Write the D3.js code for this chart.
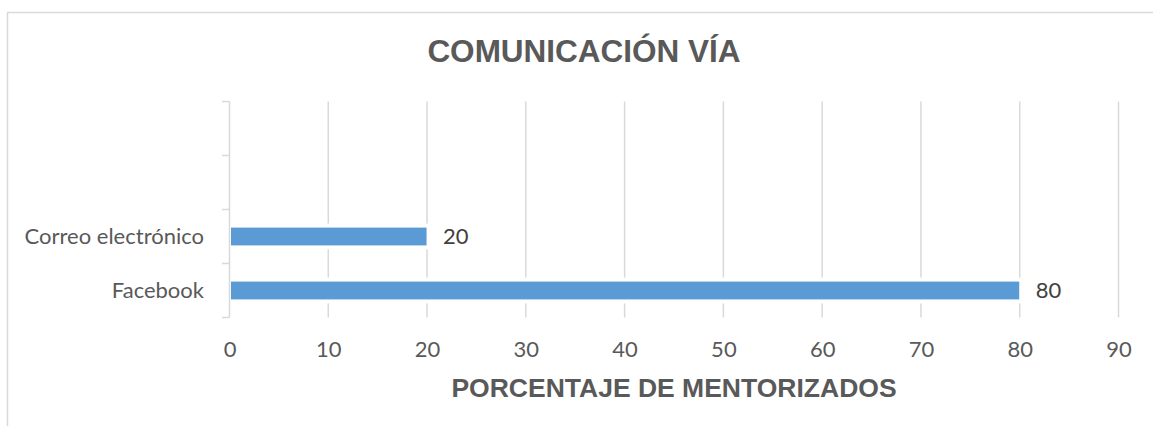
<!DOCTYPE html>
<html>
<head>
<meta charset="utf-8">
<script src="https://cdn.jsdelivr.net/npm/d3@7"></script>
<style>
  body { margin: 0; background: #fff; }
  svg { display: block; }
</style>
</head>
<body>
<svg id="chart" width="1153" height="426"></svg>
<script>
// datos del gráfico (de arriba hacia abajo, las dos primeras categorías están vacías)
var categories = ["", "", "Correo electrónico", "Facebook"];
var values = [null, null, 20, 80];
var xTicks = [0, 10, 20, 30, 40, 50, 60, 70, 80, 90];
var chartTitle = "COMUNICACIÓN VÍA";
var xTitle = "PORCENTAJE DE MENTORIZADOS";

var svg = d3.select("#chart");
var grey = "#d9d9d9";
var labelFont = "Lato, 'Open Sans', sans-serif";

// marco del gráfico
svg.append("rect")
  .attr("x", 7.5).attr("y", 12.5)
  .attr("width", 1160).attr("height", 430)
  .attr("fill", "none")
  .attr("stroke", grey)
  .attr("stroke-width", 1.5);

var xScale = d3.scaleLinear()
  .domain([0, 90])
  .range([229.5, 1118.5]);

var yScale = d3.scaleBand()
  .domain(d3.range(categories.length))
  .range([101.5, 317.5])
  .paddingInner(0.67)
  .paddingOuter(0.335);

var step = yScale.step();

// líneas de cuadrícula verticales
svg.append("g")
  .selectAll("line")
  .data(xTicks.slice(1))
  .enter()
  .append("line")
  .attr("x1", function(d){ return xScale(d); })
  .attr("x2", function(d){ return xScale(d); })
  .attr("y1", 101.5)
  .attr("y2", 317.5)
  .attr("stroke", grey)
  .attr("stroke-width", 1.5);

var rows = categories.map(function(c, i){ return {cat: c, val: values[i], i: i}; })
  .filter(function(d){ return d.val != null; });

// fondo blanco alrededor de las barras (tapa la cuadrícula como en Excel)
svg.append("g")
  .selectAll("rect")
  .data(rows)
  .enter()
  .append("rect")
  .attr("x", xScale(0) + 1)
  .attr("y", function(d){ return yScale(d.i) - 4; })
  .attr("width", function(d){ return xScale(d.val) - xScale(0) + 2; })
  .attr("height", yScale.bandwidth() + 8)
  .attr("fill", "#fff");

// barras
svg.append("g")
  .selectAll("rect")
  .data(rows)
  .enter()
  .append("rect")
  .attr("x", xScale(0) + 1.5)
  .attr("y", function(d){ return yScale(d.i); })
  .attr("width", function(d){ return xScale(d.val) - xScale(0) - 2; })
  .attr("height", yScale.bandwidth())
  .attr("fill", "#5b9bd5");

// etiquetas de datos
svg.append("g")
  .selectAll("text")
  .data(rows)
  .enter()
  .append("text")
  .attr("x", function(d){ return xScale(d.val) + 16; })
  .attr("y", function(d){ return yScale(d.i) + yScale.bandwidth() / 2; })
  .attr("dy", "0.36em")
  .attr("font-family", labelFont)
  .attr("font-size", 22)
  .attr("fill", "#404040")
  .text(function(d){ return d.val; });

// eje Y con marcas entre categorías
var yAxis = svg.append("g");
yAxis.append("line")
  .attr("x1", 229.5).attr("x2", 229.5)
  .attr("y1", 101.5).attr("y2", 317.5)
  .attr("stroke", grey).attr("stroke-width", 1.5);
yAxis.selectAll("line.tick")
  .data(d3.range(categories.length + 1))
  .enter()
  .append("line")
  .attr("class", "tick")
  .attr("x1", 222).attr("x2", 229.5)
  .attr("y1", function(i){ return 101.5 + i * step; })
  .attr("y2", function(i){ return 101.5 + i * step; })
  .attr("stroke", grey).attr("stroke-width", 1.5);
yAxis.selectAll("text")
  .data(categories.map(function(c, i){ return {cat: c, i: i}; }))
  .enter()
  .append("text")
  .attr("x", 204)
  .attr("y", function(d){ return yScale(d.i) + yScale.bandwidth() / 2; })
  .attr("dy", "0.36em")
  .attr("text-anchor", "end")
  .attr("font-family", labelFont)
  .attr("font-size", 22)
  .attr("fill", "#595959")
  .text(function(d){ return d.cat; });

// eje X (solo etiquetas)
var xAxis = svg.append("g")
  .attr("transform", "translate(0,349)")
  .call(d3.axisBottom(xScale).tickValues(xTicks).tickSize(0).tickPadding(0));
xAxis.select(".domain").remove();
xAxis.selectAll("text")
  .attr("font-family", labelFont)
  .attr("font-size", 22)
  .attr("fill", "#595959")
  .attr("dy", "0.36em");

// títulos
svg.append("text")
  .attr("x", 584)
  .attr("y", 61.5)
  .attr("text-anchor", "middle")
  .attr("font-family", "'Liberation Sans', Arial, sans-serif")
  .attr("font-weight", "bold")
  .attr("font-size", 31.5)
  .attr("fill", "#595959")
  .text(chartTitle);

svg.append("text")
  .attr("x", (xScale(0) + xScale(90)) / 2)
  .attr("y", 396.5)
  .attr("text-anchor", "middle")
  .attr("font-family", "'Liberation Sans', Arial, sans-serif")
  .attr("font-weight", "bold")
  .attr("font-size", 26.5)
  .attr("fill", "#595959")
  .text(xTitle);
</script>
</body>
</html>
